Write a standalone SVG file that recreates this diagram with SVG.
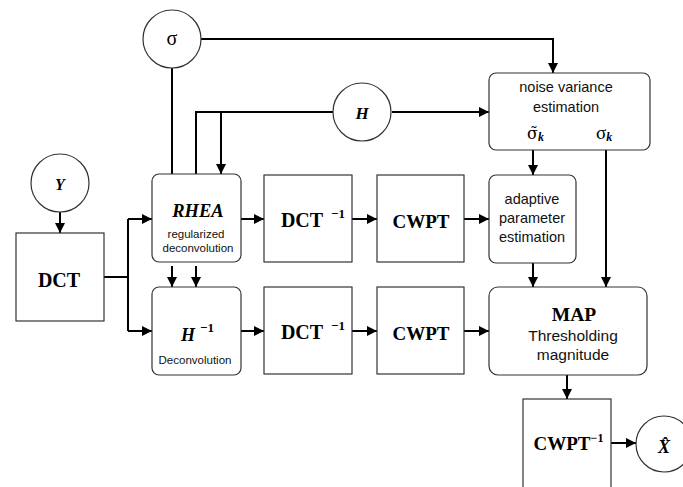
<svg xmlns="http://www.w3.org/2000/svg" width="683" height="487" viewBox="0 0 683 487">
<style>
.box{fill:#fff;stroke:#333;stroke-width:1.2}
.c{fill:#fff;stroke:#333;stroke-width:1.2}
.ln{fill:none;stroke:#000;stroke-width:2}
.ar{fill:none;stroke:#000;stroke-width:2;marker-end:url(#ah)}
.tb{font-family:"Liberation Serif",serif;font-weight:bold;fill:#000;text-anchor:middle}
.tbi{font-family:"Liberation Serif",serif;font-weight:bold;font-style:italic;fill:#000;text-anchor:middle}
.ts{font-family:"Liberation Sans",Arial,sans-serif;fill:#111;text-anchor:middle}
.sig{font-family:"Liberation Serif",serif;fill:#000}
.sigd{font-family:"DejaVu Serif",serif;fill:#000}
</style>
<defs>
<marker id="ah" viewBox="0 0 10 10" refX="10" refY="5" markerWidth="11" markerHeight="10" markerUnits="userSpaceOnUse" orient="auto">
<path d="M0,0 L10,5 L0,10 Z" fill="#000"/>
</marker>
</defs>
<g id="connectors">
<path class="ar" d="M201,39 H553 V73"/>
<path class="ln" d="M172,68 V174"/>
<path class="ln" d="M333,112 H196 V174"/>
<path class="ar" d="M221,112 V174"/>
<path class="ar" d="M392,112 H489"/>
<path class="ar" d="M60,212 V233"/>
<path class="ln" d="M104,277 H128"/>
<path class="ln" d="M128,219 V331"/>
<path class="ar" d="M128,219 H152"/>
<path class="ar" d="M128,331 H152"/>
<path class="ar" d="M172,266 V287"/>
<path class="ar" d="M196,266 V287"/>
<path class="ar" d="M241,219 H264"/>
<path class="ar" d="M352,219 H377"/>
<path class="ar" d="M464,219 H489"/>
<path class="ar" d="M241,331 H264"/>
<path class="ar" d="M352,331 H377"/>
<path class="ar" d="M464,331 H489"/>
<path class="ar" d="M533,150 V175"/>
<path class="ar" d="M533,263 V287"/>
<path class="ar" d="M606,150 V287"/>
<path class="ar" d="M567,375 V399"/>
<path class="ar" d="M611,443 H636"/>
</g>
<g id="sigma">
<circle class="c" cx="172" cy="39" r="29"/>
<text class="sig" x="172" y="45" font-size="20" text-anchor="middle">σ</text>
</g>
<g id="H">
<circle class="c" cx="362" cy="112" r="29"/>
<text class="tbi" x="362" y="119" font-size="17">H</text>
</g>
<g id="Y">
<circle class="c" cx="60" cy="183" r="29"/>
<text class="tbi" x="60" y="190" font-size="16">Y</text>
</g>
<g id="dct">
<rect class="box" x="16" y="233" width="88" height="88"/>
<text class="tb" x="59" y="287" font-size="20">DCT</text>
</g>
<g id="rhea">
<rect class="box" x="152" y="174" width="89" height="88" rx="7"/>
<text class="tbi" x="198" y="217" font-size="18.5">RHEA</text>
<text class="ts" x="196" y="238" font-size="11.5">regularized</text>
<text class="ts" x="198" y="252" font-size="11.5">deconvolution</text>
</g>
<g id="hinv">
<rect class="box" x="152" y="287" width="89" height="88" rx="7"/>
<text class="tbi" x="188" y="341" font-size="18">H</text>
<text class="tb" x="207" y="332" font-size="13">−1</text>
<text class="ts" x="195" y="364" font-size="11.5">Deconvolution</text>
</g>
<g id="dctinv1">
<rect class="box" x="264" y="175" width="88" height="87"/>
<text class="tb" x="302" y="227" font-size="20">DCT</text>
<text class="tb" x="338" y="218" font-size="13">−1</text>
</g>
<g id="dctinv2">
<rect class="box" x="264" y="287" width="88" height="87"/>
<text class="tb" x="302" y="339" font-size="20">DCT</text>
<text class="tb" x="338" y="330" font-size="13">−1</text>
</g>
<g id="cwpt1">
<rect class="box" x="377" y="175" width="87" height="87"/>
<text class="tb" x="421" y="228" font-size="19">CWPT</text>
</g>
<g id="cwpt2">
<rect class="box" x="377" y="287" width="87" height="87"/>
<text class="tb" x="421" y="340" font-size="19">CWPT</text>
</g>
<g id="noise">
<rect class="box" x="489" y="73" width="161" height="77" rx="7"/>
<text class="ts" x="566" y="92" font-size="14.5">noise variance</text>
<text class="ts" x="566" y="112" font-size="14.5">estimation</text>
<text class="sigd" x="527" y="139" font-size="16">σ̃<tspan font-family="Liberation Serif" font-size="12" font-style="italic" font-weight="bold" dy="2">k</tspan></text>
<text class="sig" x="596" y="139" font-size="19">σ<tspan font-size="12" font-style="italic" font-weight="bold" dy="2">k</tspan></text>
</g>
<g id="adaptive">
<rect class="box" x="489" y="175" width="87" height="88" rx="7"/>
<text class="ts" x="532" y="204" font-size="14.5">adaptive</text>
<text class="ts" x="532" y="223" font-size="14.5">parameter</text>
<text class="ts" x="532" y="242" font-size="14.5">estimation</text>
</g>
<g id="map">
<rect class="box" x="489" y="287" width="158" height="88" rx="9"/>
<text class="tb" x="574" y="321" font-size="19.5">MAP</text>
<text class="ts" x="573" y="341" font-size="15.5">Thresholding</text>
<text class="ts" x="573" y="360" font-size="15.5">magnitude</text>
</g>
<g id="cwptinv">
<rect class="box" x="523" y="399" width="88" height="90"/>
<text class="tb" x="562" y="450" font-size="19">CWPT</text>
<text class="tb" x="597" y="442" font-size="12">−1</text>
</g>
<g id="xhat">
<circle class="c" cx="664" cy="444" r="28"/>
<text class="tbi" x="664" y="453" font-size="18">X̂</text>
</g>
</svg>
